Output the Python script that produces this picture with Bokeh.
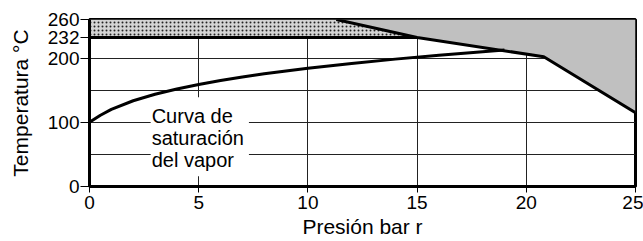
from bokeh.plotting import figure
from bokeh.models import Range1d, FixedTicker, Label
from bokeh.embed import file_html
from bokeh.resources import INLINE

# Saturation curve (gauge pressure bar -> °C)
sat_p = [0, 0.5, 1, 2, 3, 4, 5, 6, 7, 8, 9, 10, 12, 14, 16, 18, 19]
sat_t = [100, 111, 120, 133.5, 143.6, 151.8, 158.8, 165, 170.4, 175.4, 179.9, 184.1, 191.6, 198.3, 204.3, 209.8, 212.4]

# Limit line
lim_p = [11.3, 15, 20.8, 25]
lim_t = [260, 232, 202, 115]

x_ticks = [0, 5, 10, 15, 20, 25]
y_ticks = [0, 100, 200, 232, 260]
x_grid = [5, 10, 15, 20]
y_grid = [50, 100, 150, 200]
band_low, band_high = 232, 260

FONT = "Liberation Sans"

p = figure(width=643, height=241, output_backend="svg", toolbar_location=None,
           x_range=Range1d(0, 25), y_range=Range1d(0, 260),
           min_border_left=89, min_border_right=8, min_border_top=19, min_border_bottom=55)

p.outline_line_color = "black"
p.outline_line_width = 3
p.background_fill_color = "white"

p.xaxis.ticker = FixedTicker(ticks=x_ticks)
p.yaxis.ticker = FixedTicker(ticks=y_ticks)
p.xgrid.ticker = FixedTicker(ticks=x_grid)
p.ygrid.ticker = FixedTicker(ticks=y_grid)
for g in (p.xgrid, p.ygrid):
    g.grid_line_color = "#222222"
    g.grid_line_width = 1
    g.grid_line_alpha = 1

for ax in (p.xaxis, p.yaxis):
    ax.axis_line_width = 3
    ax.axis_line_color = "black"
    ax.major_tick_in = 0
    ax.minor_tick_out = 0
    ax.minor_tick_in = 0
    ax.major_tick_line_width = 1
    ax.major_label_text_font = FONT
    ax.major_label_text_font_size = "19px"
    ax.major_label_text_color = "black"
    ax.axis_label_text_font = FONT
    ax.axis_label_text_font_size = "21px"
    ax.axis_label_text_font_style = "normal"
    ax.axis_label_text_color = "black"

p.xaxis.axis_label = "Presión bar r"
p.yaxis.axis_label = "Temperatura °C"
p.xaxis.major_tick_out = 6
p.yaxis.major_tick_out = 9
p.xaxis.major_label_standoff = 3
p.yaxis.major_label_standoff = 1
p.xaxis.axis_label_standoff = 3
p.yaxis.axis_label_standoff = 13

# hatched band (232-260) left of the limit line
band_x = [0, lim_p[1], lim_p[0], 0]
band_y = [band_low, band_low, band_high, band_high]
p.patch(band_x, band_y, fill_color="#d4d4d4", line_color=None,
        hatch_pattern="dot", hatch_color="#222222", hatch_scale=4, hatch_weight=2)

# grey region right/above the limit line
grey_x = [lim_p[0], 25] + lim_p[::-1]
grey_y = [band_high, band_high] + lim_t[::-1]
p.patch(grey_x, grey_y, fill_color="#c0c0c0", line_color=None)

# band lower boundary
p.line([0, lim_p[1]], [band_low, band_low], line_color="black", line_width=3)
# limit line
p.line(lim_p, lim_t, line_color="black", line_width=3)
# saturation curve
p.line(sat_p, sat_t, line_color="black", line_width=3)

lab = Label(x=2.8, y=139, text="Curva de\nsaturación\ndel vapor",
            text_font=FONT, text_font_size="20px", text_color="black",
            text_align="left", text_baseline="top", text_line_height=1.0,
            background_fill_color="white", padding=(1, 5, 8, 5))
p.add_layout(lab)

open("out.html", "w").write(file_html(p, INLINE))
